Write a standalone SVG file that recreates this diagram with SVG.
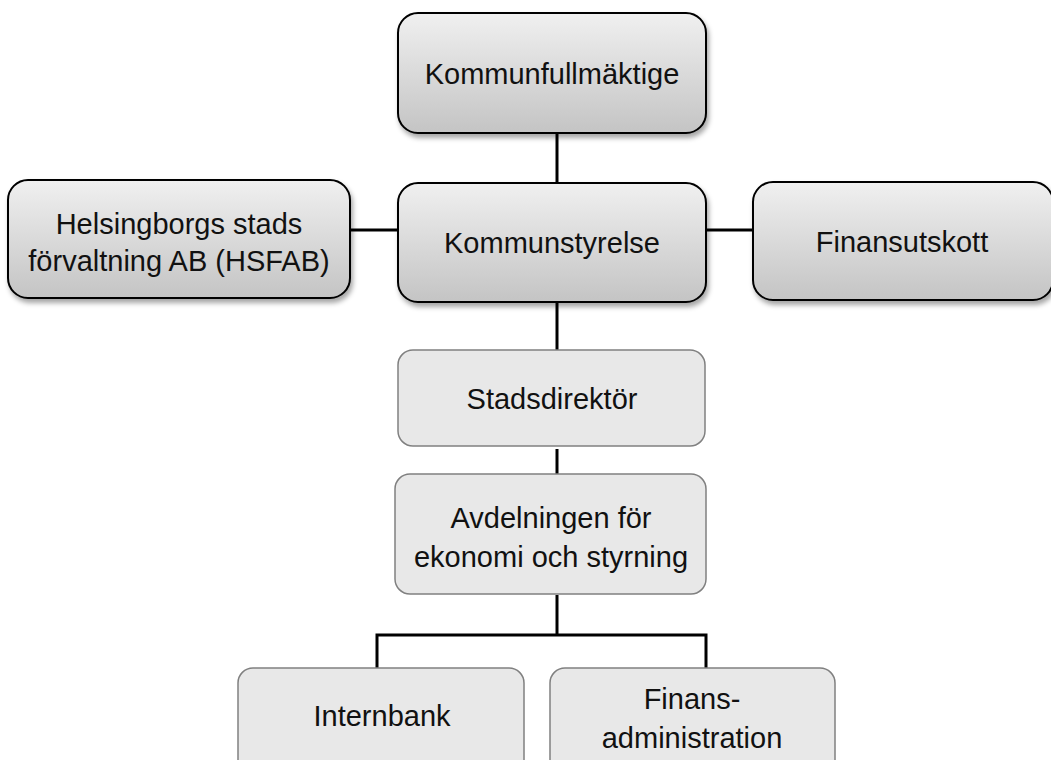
<svg xmlns="http://www.w3.org/2000/svg" width="1051" height="760" viewBox="0 0 1051 760">
<defs>
<linearGradient id="g" x1="0" y1="0" x2="0" y2="1">
<stop offset="0" stop-color="#f0f0f0"/>
<stop offset="1" stop-color="#c4c4c4"/>
</linearGradient>
<filter id="sh" x="-10%" y="-10%" width="125%" height="130%">
<feDropShadow dx="2" dy="4" stdDeviation="2.5" flood-color="#000" flood-opacity="0.35"/>
</filter>
</defs>
<style>
.dk{fill:url(#g);stroke:#000;stroke-width:2;filter:url(#sh)}
.lt{fill:#e8e8e8;stroke:#808080;stroke-width:1.5}
.t{font-family:"Liberation Sans",Arial,sans-serif;font-size:29px;fill:#111;text-anchor:middle}
.c{stroke:#000;stroke-width:3;fill:none}
</style>
<rect width="1051" height="760" fill="#fff"/>
<g id="connectors">
<line class="c" x1="557" y1="133" x2="557" y2="183"/>
<line class="c" x1="350" y1="230" x2="398" y2="230"/>
<line class="c" x1="706" y1="230" x2="753" y2="230"/>
<line class="c" x1="557" y1="302" x2="557" y2="350"/>
<line class="c" x1="557" y1="449" x2="557" y2="474"/>
<line class="c" x1="557" y1="595" x2="557" y2="635"/>
<polyline class="c" points="377,668 377,635 706,635 706,668"/>
</g>
<g id="kommunfullmaktige">
<rect class="dk" x="398" y="13" width="308" height="120" rx="20"/>
<text class="t" x="552" y="84">Kommunfullmäktige</text>
</g>
<g id="kommunstyrelse">
<rect class="dk" x="398" y="183" width="308" height="119" rx="20"/>
<text class="t" x="552" y="253">Kommunstyrelse</text>
</g>
<g id="hsfab">
<rect class="dk" x="8" y="180" width="342" height="118" rx="20"/>
<text class="t" x="179" y="234">Helsingborgs stads</text>
<text class="t" x="179" y="271">förvaltning AB (HSFAB)</text>
</g>
<g id="finansutskott">
<rect class="dk" x="753" y="182" width="300" height="118" rx="20"/>
<text class="t" x="902" y="252">Finansutskott</text>
</g>
<g id="stadsdirektor">
<rect class="lt" x="398" y="350" width="307" height="96" rx="15"/>
<text class="t" x="552" y="409">Stadsdirektör</text>
</g>
<g id="avdelningen">
<rect class="lt" x="395" y="474" width="311" height="120" rx="15"/>
<text class="t" x="551" y="528">Avdelningen för</text>
<text class="t" x="551" y="567">ekonomi och styrning</text>
</g>
<g id="internbank">
<rect class="lt" x="238" y="668" width="286" height="110" rx="15"/>
<text class="t" x="382" y="726">Internbank</text>
</g>
<g id="finansadministration">
<rect class="lt" x="550" y="668" width="285" height="110" rx="15"/>
<text class="t" x="692" y="709">Finans-</text>
<text class="t" x="692" y="748">administration</text>
</g>
</svg>
